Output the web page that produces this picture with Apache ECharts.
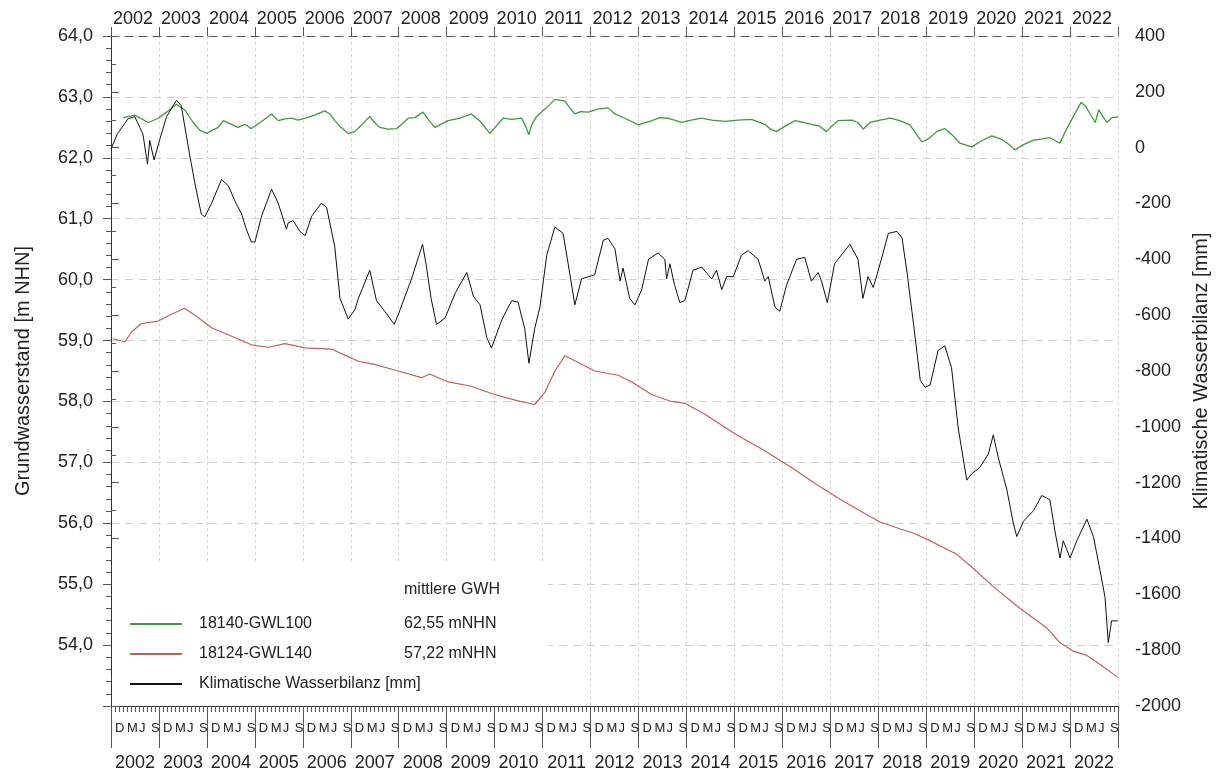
<!DOCTYPE html>
<html>
<head>
<meta charset="utf-8">
<script src="https://cdn.jsdelivr.net/npm/echarts@6/dist/echarts.min.js"></script>
<style>
  html, body { margin: 0; padding: 0; background: #ffffff; }
  #chart { width: 1222px; height: 776px; }
</style>
</head>
<body>
<div id="chart"></div>
<script>
// Hydrological years (1 Nov – 31 Oct) shown on the time axes
const yearLabels = ['2002','2003','2004','2005','2006','2007','2008','2009','2010','2011',
  '2012','2013','2014','2015','2016','2017','2018','2019','2020','2021','2022'];
// Month letters, keyed by months after 1 November
const monthLetters = { 1: 'D', 4: 'M', 7: 'J', 10: 'S' };
const periodStart = '2001-11-01';
const periodEnd = '2022-11-01';

// Mean groundwater levels per station
const meanLevels = { '18140-GWL100': '62,55 mNHN', '18124-GWL140': '57,22 mNHN' };

// Groundwater level 18140-GWL100 [m NHN]
const gwl100 = [
  ['2002-02-01',62.66],['2002-05-01',62.70],['2002-08-12',62.58],['2002-10-28',62.65],['2002-12-29',62.75],
  ['2003-03-15',62.88],['2003-05-15',62.79],['2003-07-20',62.58],['2003-09-10',62.45],['2003-11-01',62.40],
  ['2003-12-10',62.45],['2004-01-27',62.50],['2004-03-05',62.61],['2004-04-24',62.56],['2004-06-25',62.50],
  ['2004-08-16',62.55],['2004-10-05',62.48],['2004-12-25',62.60],['2005-03-08',62.72],['2005-04-28',62.61],
  ['2005-06-18',62.64],['2005-08-08',62.65],['2005-09-25',62.62],['2005-11-19',62.65],['2006-01-31',62.70],
  ['2006-04-17',62.77],['2006-05-26',62.72],['2006-07-02',62.61],['2006-08-19',62.50],['2006-10-13',62.40],
  ['2006-12-03',62.43],['2007-01-28',62.55],['2007-03-26',62.68],['2007-05-01',62.58],['2007-06-10',62.50],
  ['2007-08-11',62.47],['2007-10-17',62.48],['2007-11-25',62.55],['2008-01-12',62.65],['2008-03-04',62.66],
  ['2008-05-05',62.75],['2008-06-17',62.62],['2008-08-03',62.50],['2008-09-17',62.55],['2008-11-12',62.61],
  ['2009-02-10',62.65],['2009-05-08',62.72],['2009-07-13',62.60],['2009-09-25',62.40],['2009-11-12',62.52],
  ['2010-01-06',62.65],['2010-03-11',62.63],['2010-05-26',62.65],['2010-06-29',62.50],['2010-07-20',62.38],
  ['2010-08-12',62.55],['2010-09-17',62.68],['2010-11-19',62.80],['2011-02-03',62.96],['2011-04-20',62.93],
  ['2011-05-27',62.82],['2011-07-05',62.72],['2011-08-18',62.76],['2011-10-16',62.75],['2011-12-28',62.80],
  ['2012-03-14',62.82],['2012-05-05',62.72],['2012-07-20',62.65],['2012-10-31',62.54],['2013-02-11',62.61],
  ['2013-04-13',62.66],['2013-06-13',62.65],['2013-09-24',62.58],['2013-12-07',62.62],['2014-02-25',62.65],
  ['2014-05-13',62.62],['2014-08-22',62.60],['2014-11-29',62.62],['2015-03-12',62.63],['2015-06-21',62.55],
  ['2015-08-04',62.47],['2015-09-17',62.43],['2015-11-23',62.52],['2016-02-07',62.61],['2016-04-13',62.58],
  ['2016-06-10',62.55],['2016-08-12',62.52],['2016-10-02',62.43],['2016-11-12',62.52],['2016-12-29',62.61],
  ['2017-04-13',62.62],['2017-05-30',62.58],['2017-07-09',62.47],['2017-08-30',62.58],['2017-11-15',62.62],
  ['2018-02-01',62.65],['2018-04-14',62.61],['2018-06-29',62.54],['2018-08-15',62.40],['2018-09-28',62.26],
  ['2018-11-23',62.32],['2019-01-20',62.43],['2019-03-23',62.48],['2019-05-16',62.38],['2019-07-17',62.24],
  ['2019-10-14',62.18],['2019-12-29',62.28],['2020-03-15',62.36],['2020-06-10',62.29],['2020-07-24',62.22],
  ['2020-09-06',62.13],['2020-11-15',62.22],['2021-01-27',62.29],['2021-04-03',62.31],['2021-05-31',62.33],
  ['2021-08-16',62.24],['2021-09-25',62.43],['2021-11-26',62.68],['2022-01-24',62.91],['2022-02-26',62.85],
  ['2022-04-03',62.72],['2022-05-12',62.58],['2022-06-07',62.79],['2022-07-03',62.70],['2022-08-08',62.58],
  ['2022-09-17',62.66],['2022-10-31',62.67]
];

// Groundwater level 18124-GWL140 [m NHN]
const gwl140 = [
  ['2001-11-15',59.03],['2002-02-15',58.98],['2002-04-06',59.14],['2002-06-21',59.28],['2002-10-28',59.32],
  ['2003-01-25',59.42],['2003-05-15',59.53],['2003-07-31',59.42],['2003-12-07',59.21],['2004-05-08',59.07],
  ['2004-10-05',58.93],['2005-02-10',58.89],['2005-06-18',58.95],['2005-11-19',58.88],['2006-06-08',58.86],
  ['2006-09-16',58.76],['2006-12-29',58.66],['2007-05-01',58.61],['2007-10-28',58.50],['2008-04-24',58.39],
  ['2008-06-25',58.45],['2008-11-12',58.32],['2009-05-08',58.25],['2009-11-05',58.11],['2010-04-28',58.01],
  ['2010-09-02',57.95],['2010-11-19',58.15],['2011-02-03',58.50],['2011-04-20',58.75],['2011-07-31',58.64],
  ['2011-12-03',58.50],['2012-05-30',58.43],['2012-09-10',58.32],['2013-02-11',58.11],['2013-07-10',58.00],
  ['2013-10-20',57.97],['2014-03-22',57.79],['2014-11-04',57.47],['2015-06-21',57.19],['2016-01-13',56.91],
  ['2016-07-31',56.62],['2017-01-01',56.41],['2017-07-20',56.16],['2017-11-15',56.02],['2018-04-14',55.91],
  ['2018-07-25',55.84],['2018-11-05',55.74],['2019-06-22',55.49],['2019-09-29',55.31],['2020-03-26',54.96],
  ['2020-10-17',54.60],['2021-05-08',54.28],['2021-08-16',54.04],['2021-11-26',53.90],['2022-03-09',53.83],
  ['2022-06-18',53.68],['2022-10-31',53.47]
];

// Cumulative climatic water balance [mm]
const kwb = [
  ['2001-11-01',-5],['2001-12-20',50],['2002-03-12',104],['2002-05-01',111],['2002-07-02',49],
  ['2002-08-06',-59],['2002-08-23',26],['2002-09-25',-44],['2002-11-08',30],['2002-12-29',111],
  ['2003-03-15',170],['2003-04-20',150],['2003-06-24',-28],['2003-08-07',-140],['2003-09-20',-238],
  ['2003-10-16',-248],['2003-12-07',-199],['2004-02-21',-114],['2004-04-13',-137],['2004-06-02',-191],
  ['2004-07-23',-238],['2004-08-26',-290],['2004-10-05',-338],['2004-11-01',-338],['2004-12-22',-245],
  ['2005-03-08',-149],['2005-04-28',-199],['2005-06-29',-292],['2005-07-12',-270],['2005-08-19',-261],
  ['2005-10-10',-300],['2005-11-19',-315],['2006-01-08',-245],['2006-03-22',-199],['2006-05-01',-214],
  ['2006-07-02',-354],['2006-08-11',-540],['2006-10-13',-614],['2006-12-03',-580],['2006-12-29',-540],
  ['2007-03-26',-439],['2007-05-16',-548],['2007-07-18',-586],['2007-09-28',-633],['2007-11-01',-594],
  ['2008-02-07',-470],['2008-05-01',-346],['2008-05-30',-424],['2008-07-05',-540],['2008-08-15',-633],
  ['2008-10-20',-610],['2009-01-02',-524],['2009-04-03',-447],['2009-05-23',-532],['2009-07-13',-563],
  ['2009-09-02',-680],['2009-10-08',-718],['2009-12-25',-617],['2010-03-11',-548],['2010-04-28',-553],
  ['2010-06-18',-648],['2010-07-20',-772],['2010-09-02',-648],['2010-10-12',-571],['2010-12-03',-385],
  ['2011-02-03',-284],['2011-04-06',-307],['2011-05-15',-416],['2011-07-05',-563],['2011-08-25',-470],
  ['2011-12-03',-455],['2012-02-07',-331],['2012-03-14',-325],['2012-05-05',-362],['2012-06-14',-478],
  ['2012-07-06',-431],['2012-08-26',-540],['2012-10-05',-563],['2012-11-25',-509],['2013-01-16',-400],
  ['2013-03-30',-377],['2013-05-20',-400],['2013-06-03',-470],['2013-06-28',-416],['2013-08-03',-493],
  ['2013-09-12',-555],['2013-10-20',-548],['2013-12-21',-439],['2014-02-25',-428],['2014-05-13',-470],
  ['2014-06-18',-439],['2014-07-28',-509],['2014-09-03',-462],['2014-10-24',-462],['2014-12-25',-385],
  ['2015-02-14',-369],['2015-05-01',-400],['2015-06-21',-478],['2015-07-17',-462],['2015-09-06',-571],
  ['2015-10-13',-586],['2015-12-03',-493],['2016-02-18',-400],['2016-04-20',-393],['2016-06-10',-478],
  ['2016-07-31',-447],['2016-08-26',-478],['2016-10-09',-555],['2016-12-03',-416],['2017-03-30',-346],
  ['2017-05-31',-400],['2017-07-07',-540],['2017-08-15',-462],['2017-09-24',-501],['2017-11-15',-416],
  ['2018-01-17',-307],['2018-03-23',-300],['2018-05-01',-323],['2018-06-08',-447],['2018-07-28',-633],
  ['2018-09-17',-834],['2018-10-24',-858],['2018-12-01',-850],['2019-01-31',-726],['2019-03-23',-710],
  ['2019-05-13',-788],['2019-07-03',-1005],['2019-09-06',-1191],['2019-10-14',-1168],['2019-12-15',-1145],
  ['2020-02-17',-1098],['2020-03-26',-1029],['2020-05-05',-1114],['2020-07-06',-1222],['2020-08-26',-1346],
  ['2020-09-21',-1393],['2020-11-11',-1338],['2021-01-27',-1300],['2021-03-30',-1246],['2021-05-31',-1261],
  ['2021-07-10',-1377],['2021-08-16',-1470],['2021-09-10',-1408],['2021-11-01',-1470],['2021-12-22',-1408],
  ['2022-03-09',-1331],['2022-04-28',-1393],['2022-06-18',-1517],['2022-07-25',-1610],['2022-08-19',-1773],
  ['2022-09-13',-1695],['2022-10-31',-1695]
];

const FONT = '"Liberation Sans", Arial, Helvetica, sans-serif';
const AXIS = '#333333';
const TEXT = '#222222';
const monthCount = yearLabels.length * 12;

const chart = echarts.init(document.getElementById('chart'), null, { renderer: 'canvas' });

chart.setOption({
  animation: false,
  backgroundColor: '#ffffff',
  textStyle: { fontFamily: FONT },
  grid: { left: 111, right: 104, top: 36, bottom: 70, containLabel: false },
  xAxis: [
    { // time scale used by the series
      type: 'time', min: periodStart, max: periodEnd, show: false
    },
    { // monthly ticks with month letters
      type: 'value', position: 'bottom', min: 0, max: monthCount, interval: 1,
      axisLine: { show: true, lineStyle: { color: AXIS, width: 1 } },
      axisTick: { show: true, length: 6, lineStyle: { color: '#555', width: 1 } },
      splitLine: { show: false },
      axisLabel: {
        show: true, margin: 16, fontSize: 13, color: TEXT, fontFamily: FONT, align: 'left',
        formatter: v => monthLetters[Math.round(v) % 12] || ''
      }
    },
    { // year boundaries and centred year labels below
      type: 'category', position: 'bottom', data: yearLabels, boundaryGap: true,
      axisLine: { show: false },
      axisTick: { show: true, interval: 0, length: 42, lineStyle: { color: '#555', width: 1 } },
      splitLine: { show: false },
      axisLabel: { interval: 0, margin: 48, fontSize: 18, color: TEXT, fontFamily: FONT }
    },
    { // top axis: year labels after each boundary, vertical grid
      type: 'value', position: 'top', min: 0, max: yearLabels.length, interval: 1,
      axisLine: { show: true, lineStyle: { color: '#555', width: 1, type: [8, 6] } },
      axisTick: { show: true, length: 9, lineStyle: { color: '#555', width: 1 } },
      splitLine: { show: true, lineStyle: { color: '#d6d6d6', width: 1, type: [3, 3] } },
      axisLabel: {
        margin: 8, fontSize: 18, color: TEXT, fontFamily: FONT, align: 'left', padding: [0, 0, 0, 2],
        formatter: v => (v < yearLabels.length ? yearLabels[v] : '')
      }
    }
  ],
  yAxis: [
    {
      type: 'value', position: 'left', min: 53, max: 64, interval: 1,
      name: 'Grundwasserstand [m NHN]', nameLocation: 'middle', nameGap: 78,
      nameTextStyle: { fontSize: 20, color: TEXT, fontFamily: FONT },
      axisLine: { show: true, lineStyle: { color: AXIS, width: 1 } },
      axisTick: { show: true, length: 8, lineStyle: { color: '#555' } },
      minorTick: { show: true, splitNumber: 5, length: 5, lineStyle: { color: '#555' } },
      splitLine: { show: true, lineStyle: { color: '#d0d0d0', width: 1, type: [8, 6] } },
      axisLabel: {
        margin: 18, fontSize: 18, color: TEXT, fontFamily: FONT,
        formatter: v => (v === 53 ? '' : v.toFixed(1).replace('.', ','))
      }
    },
    {
      type: 'value', position: 'right', min: -2000, max: 400, interval: 200,
      name: 'Klimatische Wasserbilanz [mm]', nameLocation: 'middle', nameGap: 72,
      nameTextStyle: { fontSize: 20, color: TEXT, fontFamily: FONT },
      axisLine: { show: true, lineStyle: { color: AXIS, width: 1 } },
      axisTick: { show: true, length: 8, lineStyle: { color: '#555' } },
      minorTick: { show: true, splitNumber: 2, length: 5, lineStyle: { color: '#555' } },
      splitLine: { show: false },
      axisLabel: { margin: 17, fontSize: 18, color: TEXT, fontFamily: FONT, formatter: v => String(v) }
    }
  ],
  legend: {
    orient: 'vertical', left: 125, top: 611, itemWidth: 52, itemHeight: 2, itemGap: 14,
    icon: 'rect', selectedMode: false, z: 6,
    data: ['18140-GWL100', '18124-GWL140', 'Klimatische Wasserbilanz [mm]'],
    textStyle: {
      color: TEXT, fontSize: 16, fontFamily: FONT,
      rich: {
        n: { width: 205, fontSize: 16, lineHeight: 20, color: TEXT, fontFamily: FONT, padding: [0, 0, 0, 12] },
        v: { fontSize: 16, lineHeight: 20, color: TEXT, fontFamily: FONT }
      }
    },
    formatter: name => (meanLevels[name] ? `{n|${name}}{v|${meanLevels[name]}}` : `{n|${name}}`)
  },
  graphic: [
    { type: 'rect', left: 112, top: 563, z: 3, silent: true,
      shape: { width: 436, height: 142 }, style: { fill: '#ffffff' } },
    { type: 'text', left: 404, top: 582, z: 6, silent: true,
      style: { text: 'mittlere GWH', fontSize: 16, fontFamily: FONT, fill: TEXT } }
  ],
  series: [
    { name: '18140-GWL100', type: 'line', xAxisIndex: 0, yAxisIndex: 0, data: gwl100,
      showSymbol: false, color: '#3d9a3d', lineStyle: { width: 1.3, color: '#3d9a3d' }, z: 3 },
    { name: '18124-GWL140', type: 'line', xAxisIndex: 0, yAxisIndex: 0, data: gwl140,
      showSymbol: false, color: '#c0605a', lineStyle: { width: 1.2, color: '#c0605a' }, z: 3 },
    { name: 'Klimatische Wasserbilanz [mm]', type: 'line', xAxisIndex: 0, yAxisIndex: 1, data: kwb,
      showSymbol: false, color: '#111111', lineStyle: { width: 1, color: '#111111' }, z: 4 }
  ]
});
</script>
</body>
</html>
